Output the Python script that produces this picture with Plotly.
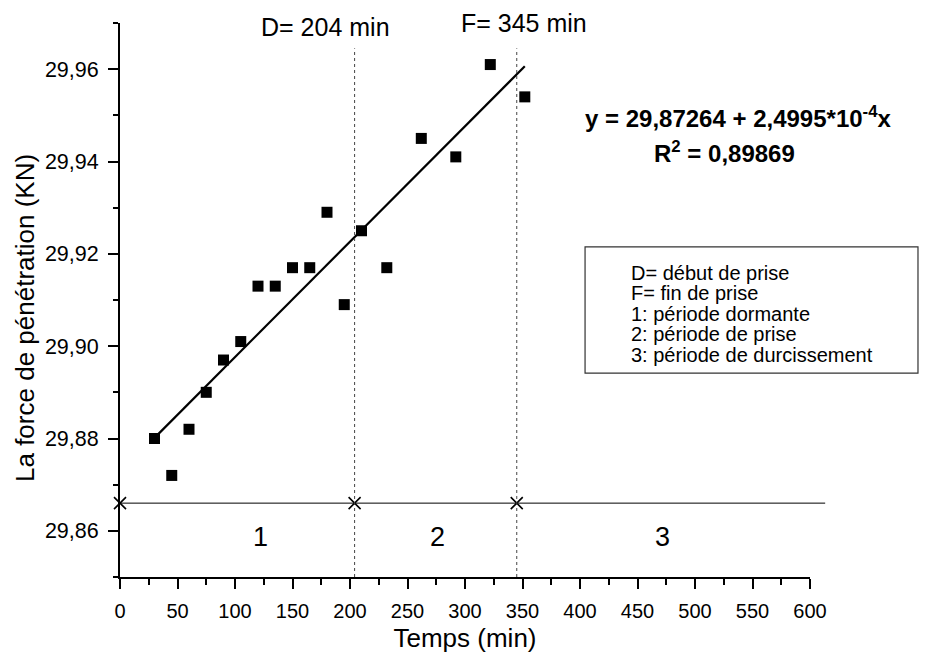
import plotly.graph_objects as go

# ---- data ----
temps = [30, 45, 60, 75, 90, 105, 120, 135, 150, 165, 180, 195, 210, 232, 262, 292, 322, 352]
force = [29.880, 29.872, 29.882, 29.890, 29.897, 29.901, 29.913, 29.913, 29.917, 29.917,
         29.929, 29.909, 29.925, 29.917, 29.945, 29.941, 29.961, 29.954]

intercept = 29.87264
slope = 2.4995e-4
fit_x = [30, 352]
fit_y = [intercept + slope * v for v in fit_x]

D_time = 204
F_time = 345
period_y = 29.866
period_x = [0, D_time, F_time]
period_labels = ["1", "2", "3"]
period_label_x = [122, 276, 472]
period_label_y = 29.8587

legend_lines = ["D= début de prise", "F= fin de prise", "1: période dormante",
                "2: période de prise", "3: période de durcissement"]
legend_line_y = [29.9158, 29.9115, 29.9070, 29.9026, 29.8981]

x_range = [0, 600]
y_range = [29.85, 29.97]

FONT = "Liberation Sans, Arial, sans-serif"

fig = go.Figure()

# data points
fig.add_trace(go.Scatter(
    x=temps, y=force, mode="markers",
    marker=dict(symbol="square", size=11, color="black"),
    showlegend=False, hoverinfo="x+y"))

# fit line
fig.add_trace(go.Scatter(
    x=fit_x, y=fit_y, mode="lines",
    line=dict(color="black", width=2.2), showlegend=False))

# period markers (x)
fig.add_trace(go.Scatter(
    x=period_x, y=[period_y] * len(period_x), mode="markers",
    marker=dict(symbol="x-thin", size=12, line=dict(color="black", width=1.6)),
    cliponaxis=False, showlegend=False))

# horizontal period line (extends slightly past the axis end)
py = (period_y - y_range[0]) / (y_range[1] - y_range[0])
fig.add_shape(type="line", xref="paper", yref="paper", x0=0, x1=1.022, y0=py, y1=py,
              line=dict(color="black", width=1))

# dashed vertical lines
for t in (D_time, F_time):
    fig.add_shape(type="line", xref="x", yref="y", x0=t, x1=t, y0=y_range[0], y1=29.9645,
                  line=dict(color="#444", width=1, dash="3px,3px"))

# D / F annotations
fig.add_annotation(x=178.7, y=29.9691, xref="x", yref="y", text="D= 204 min", showarrow=False,
                   font=dict(family=FONT, size=25, color="black"))
fig.add_annotation(x=351.3, y=29.9700, xref="x", yref="y", text="F= 345 min", showarrow=False,
                   font=dict(family=FONT, size=25, color="black"))

# period labels
for lx, lt in zip(period_label_x, period_labels):
    fig.add_annotation(x=lx, y=period_label_y, xref="x", yref="y", text=lt, showarrow=False,
                       font=dict(family=FONT, size=27, color="black"))

# equation
fig.add_annotation(x=538, y=29.9496, xref="x", yref="y",
                   text="<b>y = 29,87264 + 2,4995*10<sup>-4</sup>x</b>", showarrow=False,
                   font=dict(family=FONT, size=24, color="black"))
fig.add_annotation(x=526, y=29.9421, xref="x", yref="y",
                   text="<b>R<sup>2</sup> = 0,89869</b>", showarrow=False,
                   font=dict(family=FONT, size=24, color="black"))

# legend box
fig.add_shape(type="rect", xref="paper", yref="paper", x0=0.674, x1=1.1565, y0=0.368, y1=0.596,
              line=dict(color="#333", width=1.2), fillcolor="rgba(0,0,0,0)")
for txt, ly in zip(legend_lines, legend_line_y):
    fig.add_annotation(x=443.5, y=ly, xref="x", yref="y", text=txt, showarrow=False,
                       xanchor="left", yanchor="middle", borderpad=0,
                       font=dict(family=FONT, size=20, color="black"))

# y axis title (placed like the reference, below the plot centre)
fig.add_annotation(x=-0.1377, y=29.9061, xref="paper", yref="y", textangle=-90,
                   xanchor="center", yanchor="middle",
                   text="La force de pénétration (KN)", showarrow=False,
                   font=dict(family=FONT, size=26, color="black"))

fig.update_layout(
    width=921, height=651,
    margin=dict(l=112, r=119, t=15, b=82),
    paper_bgcolor="white", plot_bgcolor="white",
    separators=", ",
    font=dict(family=FONT, color="black"),
    showlegend=False,
)
fig.update_xaxes(
    range=x_range, tick0=0, dtick=50, showgrid=False, zeroline=False,
    showline=True, linecolor="black", linewidth=2,
    ticks="outside", ticklen=10, tickwidth=1.8, tickcolor="black", ticklabelstandoff=5,
    minor=dict(dtick=25, ticks="outside", ticklen=6, tickwidth=1.8, tickcolor="black"),
    tickfont=dict(family=FONT, size=20, color="black"),
    title=dict(text="Temps (min)", font=dict(family=FONT, size=26, color="black"), standoff=8),
)
fig.update_yaxes(
    range=y_range, tick0=29.86, dtick=0.02, tickformat=".2f", showgrid=False, zeroline=False,
    showline=True, linecolor="black", linewidth=2,
    ticks="outside", ticklen=10, tickwidth=1.8, tickcolor="black", ticklabelstandoff=5,
    minor=dict(dtick=0.01, tick0=29.85, ticks="outside", ticklen=5, tickwidth=1.8, tickcolor="black"),
    tickfont=dict(family=FONT, size=21.5, color="black"),
)

fig.write_html("out.html")
